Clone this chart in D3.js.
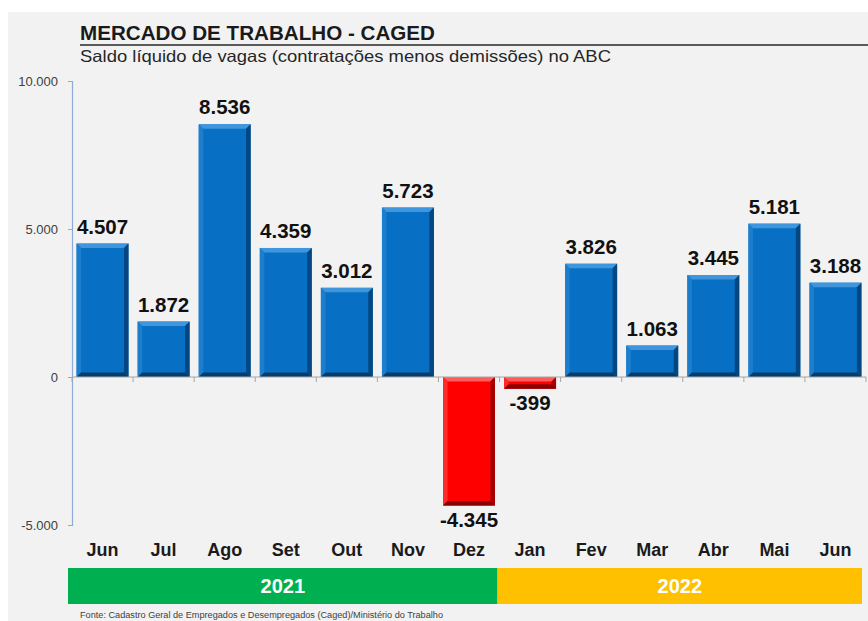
<!DOCTYPE html>
<html>
<head>
<meta charset="utf-8">
<script src="https://cdn.jsdelivr.net/npm/d3@7"></script>
<style>
  body { margin: 0; background: #ffffff; }
  svg text { font-family: Arial, "Liberation Sans", sans-serif; }
</style>
</head>
<body>
<div id="chart"></div>
<script>
// chart data
var months = ["Jun", "Jul", "Ago", "Set", "Out", "Nov", "Dez", "Jan", "Fev", "Mar", "Abr", "Mai", "Jun"];
var years = ["2021", "2021", "2021", "2021", "2021", "2021", "2021", "2022", "2022", "2022", "2022", "2022", "2022"];
var values = [4507, 1872, 8536, 4359, 3012, 5723, -4345, -399, 3826, 1063, 3445, 5181, 3188];
var yearLabels = ["2021", "2022"];
var yTicks = [-5000, 0, 5000, 10000];

var W = 868, H = 621;
var fmt = d3.formatLocale({decimal: ",", thousands: ".", grouping: [3], currency: ["R$", ""], minus: "-"}).format(",d");

var svg = d3.select("#chart").append("svg")
  .attr("width", W)
  .attr("height", H);

// grey panel
svg.append("rect")
  .attr("x", 8).attr("y", 12)
  .attr("width", W - 8).attr("height", H - 12)
  .attr("fill", "#f2f2f2");

// title + underline + subtitle
svg.append("text")
  .attr("x", 80).attr("y", 40)
  .attr("font-size", 21).attr("font-weight", "bold")
  .attr("fill", "#1a1a1a")
  .attr("textLength", 355).attr("lengthAdjust", "spacingAndGlyphs")
  .text("MERCADO DE TRABALHO - CAGED");

svg.append("line")
  .attr("x1", 80).attr("x2", W)
  .attr("y1", 45).attr("y2", 45)
  .attr("stroke", "#595959").attr("stroke-width", 2);

svg.append("text")
  .attr("x", 80).attr("y", 62)
  .attr("font-size", 16.5)
  .attr("fill", "#262626")
  .attr("textLength", 531).attr("lengthAdjust", "spacingAndGlyphs")
  .text("Saldo líquido de vagas (contratações menos demissões) no ABC");

// scales
var keys = months.map(function(m, i) { return m + " " + years[i]; });

var x = d3.scaleBand()
  .domain(keys)
  .range([72, 866])
  .paddingInner(0.15)
  .paddingOuter(0.075);

var y = d3.scaleLinear()
  .domain([-5000, 10000])
  .range([525, 81]);

// y axis
var yAxis = svg.append("g")
  .attr("transform", "translate(72,0)")
  .call(d3.axisLeft(y).tickValues(yTicks).tickSize(4).tickPadding(10).tickFormat(fmt));
yAxis.select(".domain").attr("stroke", "#8eaad6").attr("stroke-width", 1.2);
yAxis.selectAll(".tick line").attr("stroke", "#8eaad6");
yAxis.selectAll(".tick text")
  .attr("font-size", 13).attr("fill", "#404040")
  .attr("font-family", "Arial, 'Liberation Sans', sans-serif");

// bars with bevelled edges
var colours = {
  pos: {face: "#0870c4", top: "#3f96dc", left: "#1c7ecd", right: "#04467f", bottom: "#043c6c"},
  neg: {face: "#ff0000", top: "#ff5c5c", left: "#ff2a2a", right: "#a30000", bottom: "#8a0000"}
};

var bars = svg.selectAll("g.bar")
  .data(values)
  .enter()
  .append("g")
  .attr("class", "bar");

bars.each(function(v, i) {
  var g = d3.select(this);
  var c = v >= 0 ? colours.pos : colours.neg;
  var x0 = x(keys[i]), w = x.bandwidth();
  var y0 = y(Math.max(0, v)), y1 = y(Math.min(0, v));
  var b = Math.min(4.5, (y1 - y0) / 2);
  g.append("rect")
    .attr("x", x0).attr("y", y0)
    .attr("width", w).attr("height", y1 - y0)
    .attr("fill", c.face);
  var polys = [
    [[x0, y0], [x0 + w, y0], [x0 + w - b, y0 + b], [x0 + b, y0 + b], c.top],
    [[x0, y0], [x0 + b, y0 + b], [x0 + b, y1 - b], [x0, y1], c.left],
    [[x0 + w, y0], [x0 + w, y1], [x0 + w - b, y1 - b], [x0 + w - b, y0 + b], c.right],
    [[x0, y1], [x0 + b, y1 - b], [x0 + w - b, y1 - b], [x0 + w, y1], c.bottom]
  ];
  polys.forEach(function(p) {
    g.append("polygon")
      .attr("points", p.slice(0, 4).map(function(q) { return q.join(","); }).join(" "))
      .attr("fill", p[4]);
  });
});

// zero line with ticks between categories
svg.append("line")
  .attr("x1", 72).attr("x2", 866)
  .attr("y1", y(0)).attr("y2", y(0))
  .attr("stroke", "#a6a6a6").attr("stroke-width", 1.2);

var bounds = keys.map(function(k) { return x(k) - x.step() * x.paddingInner() / 2; });
bounds.push(866);
svg.selectAll("line.xtick")
  .data(bounds)
  .enter()
  .append("line")
  .attr("class", "xtick")
  .attr("x1", function(d) { return d; })
  .attr("x2", function(d) { return d; })
  .attr("y1", y(0))
  .attr("y2", y(0) + 5)
  .attr("stroke", "#a6a6a6");

// value labels
svg.selectAll("text.val")
  .data(values)
  .enter()
  .append("text")
  .attr("class", "val")
  .attr("x", function(d, i) { return x(keys[i]) + x.bandwidth() / 2; })
  .attr("y", function(d) { return d >= 0 ? y(d) - 10 : y(d) + 21; })
  .attr("text-anchor", "middle")
  .attr("font-size", 20.5).attr("font-weight", "bold")
  .attr("fill", "#111111")
  .text(function(d) { return fmt(d); });

// month labels
svg.selectAll("text.month")
  .data(months)
  .enter()
  .append("text")
  .attr("class", "month")
  .attr("x", function(d, i) { return x(keys[i]) + x.bandwidth() / 2; })
  .attr("y", 556)
  .attr("text-anchor", "middle")
  .attr("font-size", 18).attr("font-weight", "bold")
  .attr("fill", "#1a1a1a")
  .text(function(d) { return d; });

// year bands
var yearFill = {"2021": "#00b050", "2022": "#ffc000"};
var yearSpans = yearLabels.map(function(yr, j) {
  var first = years.indexOf(yr), last = years.lastIndexOf(yr);
  var x0 = j === 0 ? 68 : bounds[first] - 2;
  var x1 = j === yearLabels.length - 1 ? 862 : bounds[last + 1] - 2;
  return {year: yr, x0: x0, x1: x1};
});

svg.selectAll("rect.year")
  .data(yearSpans)
  .enter()
  .append("rect")
  .attr("class", "year")
  .attr("x", function(d) { return d.x0; })
  .attr("y", 568)
  .attr("width", function(d) { return d.x1 - d.x0; })
  .attr("height", 36)
  .attr("fill", function(d) { return yearFill[d.year]; });

svg.selectAll("text.year")
  .data(yearSpans)
  .enter()
  .append("text")
  .attr("class", "year")
  .attr("x", function(d) { return (d.x0 + d.x1) / 2; })
  .attr("y", 593)
  .attr("text-anchor", "middle")
  .attr("font-size", 20).attr("font-weight", "bold")
  .attr("fill", "#ffffff")
  .text(function(d) { return d.year; });

// source
svg.append("text")
  .attr("x", 80).attr("y", 618)
  .attr("font-size", 8.5)
  .attr("fill", "#404040")
  .attr("textLength", 363).attr("lengthAdjust", "spacingAndGlyphs")
  .text("Fonte: Cadastro Geral de Empregados e Desempregados (Caged)/Ministério do Trabalho");
</script>
</body>
</html>
